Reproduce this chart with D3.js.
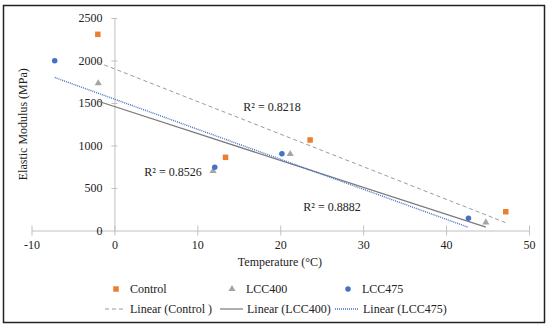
<!DOCTYPE html>
<html>
<head>
    <meta charset="utf-8">
    <title>Elastic Modulus vs Temperature</title>
    <script src="https://cdn.jsdelivr.net/npm/d3@7"></script>
    <style>
        body { margin: 0; background: #fff; }
        text { font-family: "Liberation Serif", "Times New Roman", serif; fill: #222; }
    </style>
</head>
<body>
<script>
    var width = 550,
        height = 328;

    // values
    var controlX = [-2.0, 13.4, 23.6, 47.2],
        controlY = [2308, 861, 1065, 221];
    var lcc400X = [-1.95, 11.9, 21.2, 44.8],
        lcc400Y = [1732, 700, 900, 96];
    var lcc475X = [-7.2, 12.1, 20.2, 42.7],
        lcc475Y = [1998, 743, 903, 143];
    var xTicks = [-10, 0, 10, 20, 30, 40, 50],
        yTicks = [0, 500, 1000, 1500, 2000, 2500];
    var r2Labels = ["R² = 0.8218", "R² = 0.8526", "R² = 0.8882"];

    var x = d3.scaleLinear().domain([-10, 50]).range([31.5, 529]);
    var y = d3.scaleLinear().domain([0, 2500]).range([230.5, 18]);

    var svg = d3.select("body").append("svg")
        .attr("width", width)
        .attr("height", height);

    svg.append("rect")
        .attr("x", 3.5).attr("y", 5.5)
        .attr("width", 541).attr("height", 317)
        .attr("fill", "none")
        .attr("stroke", "#222")
        .attr("stroke-width", 1.5);

    var plain = function (d) { return String(d); };

    // axes cross at x = 0 / y = 0
    var gx = svg.append("g")
        .attr("transform", "translate(0," + y(0) + ")")
        .call(d3.axisBottom(x).tickValues(xTicks).tickFormat(plain)
            .tickSize(0).tickPadding(10));
    gx.selectAll(".tick line").attr("y1", -5).attr("y2", 5).attr("stroke", "#c0c0c0");

    var gy = svg.append("g")
        .attr("transform", "translate(" + x(0) + ",0)")
        .call(d3.axisLeft(y).tickValues(yTicks).tickFormat(plain)
            .tickSize(0).tickPadding(12));
    gy.selectAll(".tick line").attr("x1", -3).attr("x2", 3).attr("stroke", "#c0c0c0");
    gy.selectAll(".tick").filter(function (d) { return d === 0; })
        .select("line").remove();

    [gx, gy].forEach(function (g) {
        g.attr("font-family", "Liberation Serif, serif").attr("font-size", 12);
        g.select(".domain").attr("stroke", "#c0c0c0");
        g.selectAll("text")
            .style("font-family", "Liberation Serif, serif")
            .style("font-size", "12px")
            .attr("fill", "#222");
    });

    svg.append("text")
        .attr("transform", "translate(27," + ((y(0) + y(2500)) / 2) + ")rotate(-90)")
        .attr("text-anchor", "middle")
        .style("font-size", "12px")
        .text("Elastic Modulus (MPa)");

    svg.append("text")
        .attr("x", 280).attr("y", 266)
        .attr("text-anchor", "middle")
        .style("font-size", "12px")
        .text("Temperature  (°C)");

    // least squares fit, drawn between the extreme x of each series
    function fit(xs, ys) {
        var mx = d3.mean(xs), my = d3.mean(ys), sxy = 0, sxx = 0;
        xs.forEach(function (v, i) {
            sxy += (v - mx) * (ys[i] - my);
            sxx += (v - mx) * (v - mx);
        });
        var b = sxy / sxx, a = my - b * mx;
        return d3.extent(xs).map(function (v) { return [v, a + b * v]; });
    }

    var line = d3.line()
        .x(function (d) { return x(d[0]); })
        .y(function (d) { return y(d[1]); });

    var trends = [
        {xs: controlX, ys: controlY, color: "#9a9a9a", dash: "4,3", w: 1},
        {xs: lcc400X, ys: lcc400Y, color: "#7a7a7a", dash: null, w: 1.2},
        {xs: lcc475X, ys: lcc475Y, color: "#4472c4", dash: "1,1", w: 1.4}
    ];
    trends.forEach(function (t) {
        svg.append("path")
            .datum(fit(t.xs, t.ys))
            .attr("d", line)
            .attr("fill", "none")
            .attr("stroke", t.color)
            .attr("stroke-width", t.w)
            .attr("stroke-dasharray", t.dash);
    });

    var sq = d3.symbol().type(d3.symbolSquare).size(30),
        tri = d3.symbol().type(d3.symbolTriangle).size(22),
        circ = d3.symbol().type(d3.symbolCircle).size(24);

    var series = [
        {xs: controlX, ys: controlY, sym: sq, color: "#ed7d31"},
        {xs: lcc400X, ys: lcc400Y, sym: tri, color: "#a5a5a5"},
        {xs: lcc475X, ys: lcc475Y, sym: circ, color: "#4472c4"}
    ];
    series.forEach(function (s) {
        svg.append("g").selectAll("path")
            .data(s.xs)
            .enter().append("path")
            .attr("transform", function (d, i) {
                return "translate(" + x(d) + "," + y(s.ys[i]) + ")";
            })
            .attr("d", s.sym)
            .attr("fill", s.color);
    });

    // R² labels
    var r2Pos = [[272, 111], [173, 176], [332, 211]];
    r2Labels.forEach(function (t, i) {
        svg.append("text")
            .attr("x", r2Pos[i][0]).attr("y", r2Pos[i][1])
            .attr("text-anchor", "middle")
            .style("font-size", "12px")
            .text(t);
    });

    // legend
    var legendTop = [
        {sym: sq, color: "#ed7d31", label: "Control", x: 116},
        {sym: tri, color: "#a5a5a5", label: "LCC400", x: 232},
        {sym: circ, color: "#4472c4", label: "LCC475", x: 348}
    ];
    legendTop.forEach(function (l) {
        svg.append("path")
            .attr("transform", "translate(" + l.x + ",289)")
            .attr("d", l.sym)
            .attr("fill", l.color);
        svg.append("text")
            .attr("x", l.x + 14).attr("y", 293)
            .style("font-size", "12px")
            .text(l.label);
    });

    var legendBottom = [
        {x1: 105, x2: 126, label: "Linear (Control )", t: trends[0]},
        {x1: 220, x2: 243, label: "Linear (LCC400)", t: trends[1]},
        {x1: 335, x2: 359, label: "Linear (LCC475)", t: trends[2]}
    ];
    legendBottom.forEach(function (l) {
        svg.append("line")
            .attr("x1", l.x1).attr("x2", l.x2)
            .attr("y1", 309).attr("y2", 309)
            .attr("stroke", l.t.color)
            .attr("stroke-width", l.t.w)
            .attr("stroke-dasharray", l.t.dash);
        svg.append("text")
            .attr("x", l.x2 + 4).attr("y", 313)
            .style("font-size", "12px")
            .text(l.label);
    });
</script>
</body>
</html>
